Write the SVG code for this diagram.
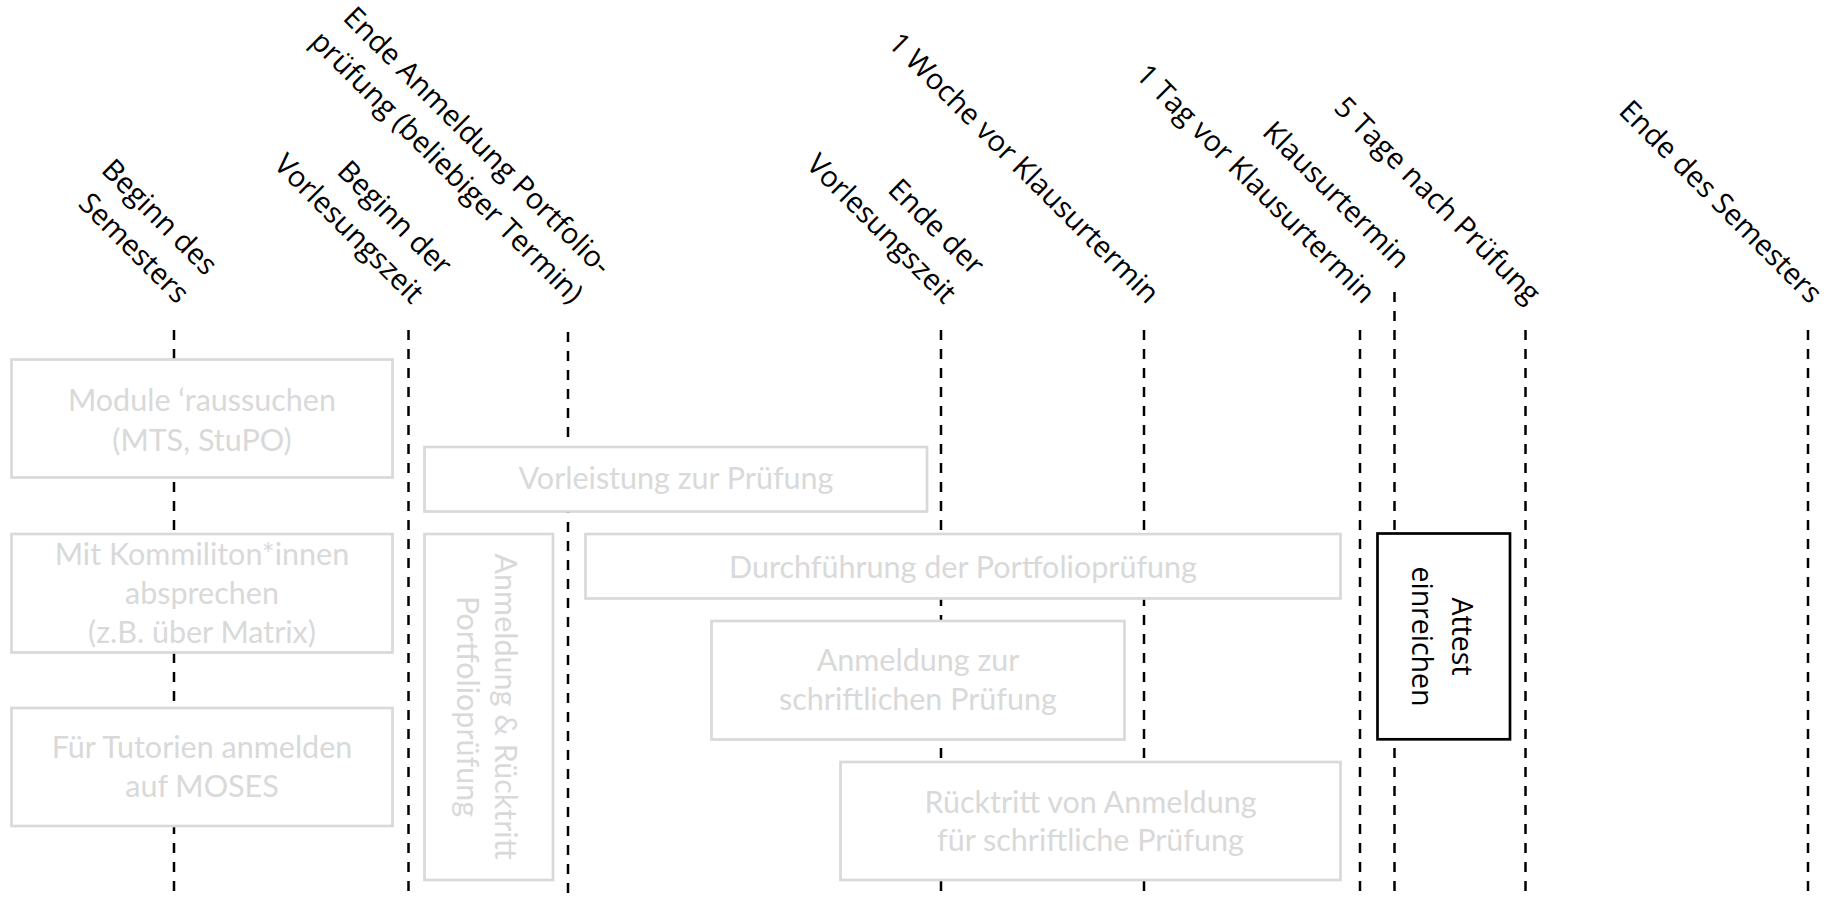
<svg xmlns="http://www.w3.org/2000/svg" width="1829" height="897" viewBox="0 0 1829 897">
<style>
.bg{fill:#ffffff}
.dash{stroke:#000;stroke-width:2.5;stroke-dasharray:10 9;fill:none}
.gbox{fill:#ffffff;stroke:#d9d9d9;stroke-width:2.7}
.bbox{fill:#ffffff;stroke:#000;stroke-width:2.7}
.gt{font-family:Lato,"Noto Sans",sans-serif;font-size:30.5px;fill:#d9d9d9;text-anchor:middle}
.lbl{font-family:"Open Sans","Noto Sans",sans-serif;font-size:29px;fill:#000;text-anchor:end}
.bt{font-family:"Open Sans","Noto Sans",sans-serif;font-size:28.5px;fill:#000;text-anchor:middle}
</style>
<rect class="bg" x="0" y="0" width="1829" height="897"/>
<g id="connectors">
<line class="dash" x1="174" y1="330" x2="174" y2="897"/>
<line class="dash" x1="408.5" y1="330" x2="408.5" y2="897"/>
<line class="dash" x1="568" y1="332" x2="568" y2="897"/>
<line class="dash" x1="941" y1="330" x2="941" y2="897"/>
<line class="dash" x1="1144" y1="330" x2="1144" y2="897"/>
<line class="dash" x1="1360" y1="330" x2="1360" y2="897"/>
<line class="dash" x1="1394.5" y1="292" x2="1394.5" y2="897"/>
<line class="dash" x1="1525.5" y1="330" x2="1525.5" y2="897"/>
<line class="dash" x1="1808" y1="330" x2="1808" y2="897"/>
</g>
<g id="label-beginn-semester" transform="translate(177,305) rotate(45)">
<text class="lbl" x="0" y="-40">Beginn des</text>
<text class="lbl" x="0" y="0">Semesters</text>
</g>
<g id="label-beginn-vorlesung" transform="translate(411.5,305) rotate(45)">
<text class="lbl" x="0" y="-40">Beginn der</text>
<text class="lbl" x="0" y="0">Vorlesungszeit</text>
</g>
<g id="label-ende-anmeldung-portfolio" transform="translate(571,305) rotate(45)">
<text class="lbl" x="0" y="-40">Ende Anmeldung Portfolio-</text>
<text class="lbl" x="0" y="0">prüfung (beliebiger Termin)</text>
</g>
<g id="label-ende-vorlesung" transform="translate(944,305) rotate(45)">
<text class="lbl" x="0" y="-40">Ende der</text>
<text class="lbl" x="0" y="0">Vorlesungszeit</text>
</g>
<g id="label-woche-vor" transform="translate(1147,305) rotate(45)">
<text class="lbl" x="0" y="0">1 Woche vor Klausurtermin</text>
</g>
<g id="label-tag-vor" transform="translate(1363,305) rotate(45)">
<text class="lbl" x="0" y="0">1 Tag vor Klausurtermin</text>
</g>
<g id="label-klausurtermin" transform="translate(1397.5,270) rotate(45)">
<text class="lbl" x="0" y="0">Klausurtermin</text>
</g>
<g id="label-5-tage" transform="translate(1528.5,305) rotate(45)">
<text class="lbl" x="0" y="0">5 Tage nach Prüfung</text>
</g>
<g id="label-ende-semester" transform="translate(1810,305) rotate(45)">
<text class="lbl" x="0" y="0">Ende des Semesters</text>
</g>
<g id="node-module">
<rect class="gbox" x="11.5" y="359.5" width="381" height="118"/>
<text class="gt" x="202" y="411">Module ‘raussuchen</text>
<text class="gt" x="202" y="451">(MTS, StuPO)</text>
</g>
<g id="node-kommilitonen">
<rect class="gbox" x="11.5" y="534" width="381" height="118.5"/>
<text class="gt" x="202" y="565">Mit Kommiliton*innen</text>
<text class="gt" x="202" y="604">absprechen</text>
<text class="gt" x="202" y="643">(z.B. über Matrix)</text>
</g>
<g id="node-tutorien">
<rect class="gbox" x="11.5" y="708" width="381" height="118"/>
<text class="gt" x="202" y="758">Für Tutorien anmelden</text>
<text class="gt" x="202" y="797">auf MOSES</text>
</g>
<g id="node-vorleistung">
<rect class="gbox" x="424.5" y="447" width="502.5" height="64.5"/>
<text class="gt" x="676" y="489">Vorleistung zur Prüfung</text>
</g>
<g id="node-anmeldung-portfolio">
<rect class="gbox" x="424.5" y="534" width="128.5" height="346"/>
<g transform="translate(495,706.5) rotate(90)">
<text class="gt" x="0" y="0">Anmeldung &amp; Rücktritt</text>
<text class="gt" x="0" y="38">Portfolioprüfung</text>
</g>
</g>
<g id="node-durchfuehrung">
<rect class="gbox" x="585.5" y="534" width="755" height="64.5"/>
<text class="gt" x="963" y="577.5">Durchführung der Portfolioprüfung</text>
</g>
<g id="node-anmeldung-schriftlich">
<rect class="gbox" x="711.5" y="621" width="413" height="118.5"/>
<text class="gt" x="918" y="670.5">Anmeldung zur</text>
<text class="gt" x="918" y="709.5">schriftlichen Prüfung</text>
</g>
<g id="node-ruecktritt">
<rect class="gbox" x="840.5" y="762" width="500" height="118"/>
<text class="gt" x="1090.5" y="812.5">Rücktritt von Anmeldung</text>
<text class="gt" x="1090.5" y="850.5">für schriftliche Prüfung</text>
</g>
<g id="node-attest">
<rect class="bbox" x="1377.5" y="533.5" width="132.5" height="205.8"/>
<g transform="translate(1452,636.5) rotate(90)">
<text class="bt" x="0" y="0">Attest</text>
<text class="bt" x="0" y="40">einreichen</text>
</g>
</g>
</svg>
